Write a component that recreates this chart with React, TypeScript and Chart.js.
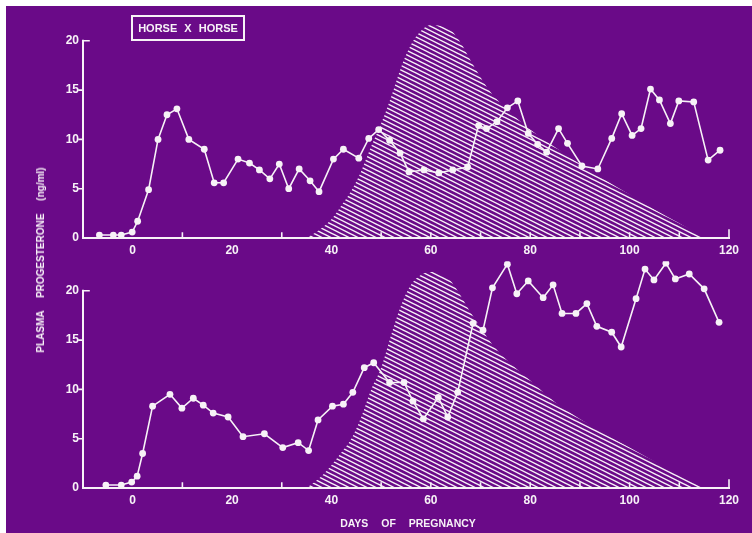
import React, { useEffect, useRef } from 'react';
import { Chart, registerables } from 'chart.js';

Chart.register(...registerables);

// ---- Top panel: progesterone (ng/ml) by day of pregnancy ----
const topDays = [-6.7, -3.9, -2.3, -0.1, 1.0, 3.2, 5.1, 6.9, 8.9, 11.3, 14.4, 16.4, 18.3, 21.2, 23.5, 25.5, 27.6, 29.5, 31.4, 33.5, 35.7, 37.5, 40.4, 42.4, 45.5, 47.5, 49.5, 51.7, 53.8, 55.6, 58.6, 61.6, 64.4, 67.4, 69.6, 71.2, 73.3, 75.4, 77.5, 79.6, 81.5, 83.3, 85.7, 87.5, 90.4, 93.6, 96.4, 98.4, 100.5, 102.3, 104.2, 106.0, 108.2, 109.9, 112.9, 115.8, 118.2];
const topValues = [0.3, 0.3, 0.3, 0.6, 1.7, 4.9, 10.0, 12.5, 13.1, 10.0, 9.0, 5.6, 5.6, 8.0, 7.6, 6.9, 6.0, 7.5, 5.0, 7.0, 5.8, 4.7, 8.0, 9.0, 8.1, 10.1, 11.0, 9.9, 8.6, 6.7, 6.9, 6.6, 6.9, 7.2, 11.4, 11.1, 11.8, 13.2, 13.9, 10.6, 9.5, 8.7, 11.1, 9.6, 7.3, 7.0, 10.1, 12.6, 10.4, 11.1, 15.1, 14.0, 11.6, 13.9, 13.8, 7.9, 8.9];

// hatched profile (top panel)
const topHatchDays = [35, 38, 40, 42, 44, 46, 48, 50, 52, 54, 56, 58, 60, 62, 64, 66, 68, 70, 72, 75, 80, 85, 90, 95, 100, 105, 110, 115];
const topHatchValues = [0, 1.0, 1.9, 3.3, 4.8, 6.8, 9.3, 11.6, 14.3, 17.3, 19.6, 21.0, 21.6, 21.5, 21.1, 19.8, 18.0, 16.3, 14.8, 13.2, 11.0, 9.2, 7.5, 5.9, 4.4, 2.9, 1.5, 0];

// ---- Bottom panel ----
const bottomDays = [-5.4, -2.3, -0.2, 0.9, 2.0, 4.0, 7.5, 9.9, 12.2, 14.2, 16.2, 19.2, 22.2, 26.5, 30.2, 33.3, 35.4, 37.3, 40.2, 42.4, 44.3, 46.6, 48.5, 51.7, 54.6, 56.4, 58.5, 61.5, 63.4, 65.4, 68.5, 70.5, 72.4, 75.4, 77.3, 79.6, 82.6, 84.6, 86.4, 89.2, 91.4, 93.4, 96.4, 98.3, 101.3, 103.1, 104.9, 107.3, 109.2, 112.0, 115.0, 118.0];
const bottomValues = [0.3, 0.3, 0.6, 1.2, 3.5, 8.3, 9.5, 8.1, 9.1, 8.4, 7.6, 7.2, 5.2, 5.5, 4.1, 4.6, 3.8, 6.9, 8.3, 8.5, 9.7, 12.2, 12.7, 10.7, 10.7, 8.8, 7.0, 9.2, 7.2, 9.7, 16.7, 16.0, 20.3, 22.7, 19.7, 21.0, 19.3, 20.6, 17.7, 17.7, 18.7, 16.4, 15.8, 14.3, 19.2, 22.2, 21.1, 22.8, 21.2, 21.7, 20.2, 16.8];

const bottomHatchDays = [35, 38, 40, 42, 44, 46, 48, 50, 52, 54, 56, 58, 60, 62, 64, 66, 68, 70, 72, 75, 80, 85, 90, 95, 100, 105, 110, 115];
const bottomHatchValues = [0, 1.2, 2.3, 3.6, 5.0, 7.2, 10.0, 12.2, 15.5, 18.5, 20.6, 21.6, 21.9, 21.7, 21.0, 19.5, 17.8, 16.3, 14.8, 13.1, 10.9, 8.7, 7.0, 5.5, 4.1, 2.7, 1.3, 0];

// axis tick definitions
const xLabelTicks = [0, 20, 40, 60, 80, 100, 120];
const xTickMarks = [10, 30, 50, 60, 70, 80, 90, 100, 110, 120];
const yLabelTicks = [0, 5, 10, 15, 20];

const PURPLE = '#6a0a88';
const INK = '#f7f2f7';
const FONT = "'Liberation Sans', Arial, sans-serif";

function makeHatch(): CanvasPattern | string {
  const c = document.createElement('canvas');
  c.width = 9;
  c.height = 9;
  const g = c.getContext('2d');
  if (!g) return 'rgba(255,255,255,0.4)';
  g.strokeStyle = INK;
  g.lineWidth = 1.5;
  for (let k = -3; k <= 3; k++) {
    const b = k * 4.5;
    g.beginPath();
    g.moveTo(-9, -4.5 + b);
    g.lineTo(18, 9 + b);
    g.stroke();
  }
  return g.createPattern(c, 'repeat') || 'rgba(255,255,255,0.4)';
}

const axesPlugin = {
  id: 'frameAxes',
  beforeDatasetsDraw(chart: any) {
    const { ctx } = chart;
    const x = chart.scales.x;
    const y = chart.scales.y;
    const xl = x.getPixelForValue(-10);
    const xr = x.getPixelForValue(120);
    const y0 = y.getPixelForValue(0);
    const yTop = y.getPixelForValue(20);
    ctx.save();
    ctx.strokeStyle = INK;
    ctx.lineWidth = 2;
    ctx.lineCap = 'square';
    ctx.beginPath();
    ctx.moveTo(xl, yTop);
    ctx.lineTo(xl, y0);
    ctx.lineTo(xr, y0);
    ctx.stroke();
    ctx.lineWidth = 1.6;
    ctx.beginPath();
    for (const v of yLabelTicks) {
      if (v === 0) continue;
      const py = y.getPixelForValue(v);
      if (v === 20) {
        ctx.moveTo(xl, py);
        ctx.lineTo(xl + 6, py);
      } else {
        ctx.moveTo(xl - 4, py);
        ctx.lineTo(xl, py);
      }
    }
    for (const v of xTickMarks) {
      const px = x.getPixelForValue(v);
      ctx.moveTo(px, y0);
      ctx.lineTo(px, y0 - (v === 120 ? 8 : 5));
    }
    ctx.stroke();
    ctx.restore();
  },
};

function buildConfig(days: number[], values: number[], hDays: number[], hValues: number[], hatch: any): any {
  return {
    type: 'line',
    data: {
      datasets: [
        {
          data: days.map((d, i) => ({ x: d, y: values[i] })),
          borderColor: INK,
          borderWidth: 1.6,
          pointRadius: 3.4,
          pointBackgroundColor: INK,
          pointBorderWidth: 0,
          tension: 0,
          fill: false,
          order: 1,
        },
        {
          data: hDays.map((d, i) => ({ x: d, y: hValues[i] })),
          borderColor: 'rgba(0,0,0,0)',
          borderWidth: 0,
          pointRadius: 0,
          backgroundColor: hatch,
          fill: 'origin',
          cubicInterpolationMode: 'monotone',
          order: 2,
        },
      ],
    },
    options: {
      animation: false,
      responsive: false,
      maintainAspectRatio: false,
      events: [],
      layout: { padding: { top: 8, right: 23, left: 0, bottom: 0 } },
      plugins: { legend: { display: false }, tooltip: { enabled: false }, title: { display: false } },
      scales: {
        x: {
          type: 'linear',
          min: -10,
          max: 120,
          grid: { display: false, drawTicks: false },
          border: { display: false },
          ticks: { color: INK, font: { family: FONT, size: 12, weight: 'bold' }, padding: 5, maxRotation: 0, autoSkip: false },
          afterBuildTicks: (s: any) => {
            s.ticks = xLabelTicks.map((v) => ({ value: v }));
          },
          afterFit: (s: any) => {
            s.height = 27;
          },
        },
        y: {
          type: 'linear',
          min: 0,
          max: 23,
          grid: { display: false, drawTicks: false },
          border: { display: false },
          ticks: { color: INK, font: { family: FONT, size: 12, weight: 'bold' }, padding: 4, autoSkip: false },
          afterBuildTicks: (s: any) => {
            s.ticks = yLabelTicks.map((v) => ({ value: v }));
          },
          afterFit: (s: any) => {
            s.width = 83;
          },
        },
      },
    },
    plugins: [axesPlugin],
  };
}

export default function App() {
  const topRef = useRef<HTMLCanvasElement | null>(null);
  const botRef = useRef<HTMLCanvasElement | null>(null);

  useEffect(() => {
    const hatch = makeHatch();
    const charts: Chart[] = [];
    if (topRef.current) {
      charts.push(new Chart(topRef.current, buildConfig(topDays, topValues, topHatchDays, topHatchValues, hatch)));
    }
    if (botRef.current) {
      charts.push(new Chart(botRef.current, buildConfig(bottomDays, bottomValues, bottomHatchDays, bottomHatchValues, hatch)));
    }
    return () => charts.forEach((c) => c.destroy());
  }, []);

  const textBase: React.CSSProperties = {
    position: 'absolute',
    color: INK,
    fontFamily: FONT,
    fontWeight: 'bold',
    whiteSpace: 'nowrap',
    lineHeight: 1,
  };

  return (
    <div style={{ position: 'fixed', left: 0, top: 0, width: 752, height: 533, background: '#ffffff', overflow: 'hidden' }}>
      <div style={{ position: 'absolute', left: 6, top: 6, width: 746, height: 527, background: PURPLE }} />
      <canvas ref={topRef} width={752} height={265} style={{ position: 'absolute', left: 0, top: 0, display: 'block' }} />
      <canvas ref={botRef} width={752} height={265} style={{ position: 'absolute', left: 0, top: 250, display: 'block' }} />
      <div
        style={{
          ...textBase,
          left: 131,
          top: 15,
          width: 110,
          height: 22,
          border: `2px solid ${INK}`,
          fontSize: 11,
          wordSpacing: 4,
          display: 'flex',
          alignItems: 'center',
          justifyContent: 'center',
        }}
      >
        HORSE X HORSE
      </div>
      <div
        style={{
          ...textBase,
          left: 41,
          top: 260,
          fontSize: 10,
          wordSpacing: 10,
          transform: 'translate(-50%, -50%) rotate(-90deg)',
        }}
      >
        PLASMA PROGESTERONE (ng/ml)
      </div>
      <div
        style={{
          ...textBase,
          left: 408,
          top: 523,
          fontSize: 10.5,
          wordSpacing: 10,
          transform: 'translate(-50%, -50%)',
        }}
      >
        DAYS OF PREGNANCY
      </div>
    </div>
  );
}
